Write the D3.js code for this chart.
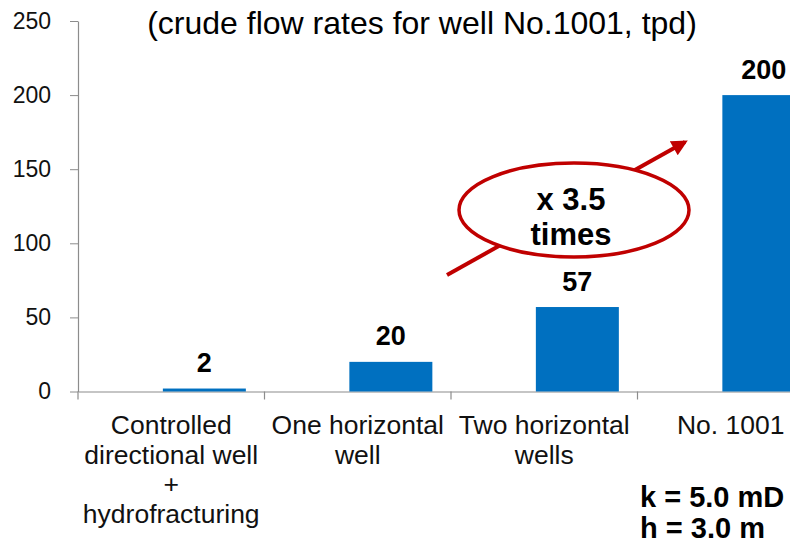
<!DOCTYPE html>
<html lang="en">
<head>
<meta charset="utf-8">
<title>Crude flow rates</title>
<script src="https://cdn.jsdelivr.net/npm/d3@7"></script>
<style>
body { margin: 0; background: #fff; }
text { font-family: "Liberation Sans", Arial, sans-serif; }
</style>
</head>
<body>
<script>
// data
var categories = ["Controlled directional well + hydrofracturing", "One horizontal well", "Two horizontal wells", "No. 1001"];
var catLines = [["Controlled", "directional well", "+", "hydrofracturing"], ["One horizontal", "well"], ["Two horizontal", "wells"], ["No. 1001"]];
var flowRates = [2, 20, 57, 200];
var yTicks = [0, 50, 100, 150, 200, 250];
var subtitle = "(crude flow rates for well No.1001, tpd)";
var ratioText = ["x 3.5", "times"];
var notes = ["k = 5.0 mD", "h = 3.0 m"];

var w = 790, h = 544;

var svg = d3.select("body").append("svg")
    .attr("width", w)
    .attr("height", h);

// axis area runs off the right edge, like the cropped original
var x = d3.scaleBand()
    .domain(categories)
    .range([78, 824])
    .padding(0);

var y = d3.scaleLinear()
    .domain([0, 250])
    .range([391.5, 21]);

// bars sit right of band centre (second series slot)
var barStart = 0.455, barWidth = 0.445;

svg.append("text")
    .attr("x", 422)
    .attr("y", 34)
    .attr("text-anchor", "middle")
    .attr("font-size", 32)
    .attr("fill", "#000")
    .text(subtitle);

// y axis
var yAxis = svg.append("g").attr("transform", "translate(78,0)")
    .call(d3.axisLeft(y).tickValues(yTicks).tickSize(8).tickSizeOuter(0).tickPadding(19));
yAxis.select(".domain").attr("stroke", "#8c8c8c").attr("stroke-width", 1.2);
yAxis.selectAll(".tick line").attr("stroke", "#8c8c8c");
yAxis.selectAll(".tick text")
    .attr("font-size", 23)
    .attr("fill", "#111")
    .style("font-family", "'Liberation Sans', Arial, sans-serif");

// x axis
var xAxis = svg.append("g").attr("transform", "translate(0," + y(0) + ")")
    .call(d3.axisBottom(x).tickSize(0).tickSizeOuter(0).tickFormat(""));
xAxis.select(".domain").attr("stroke", "#8c8c8c").attr("stroke-width", 1.2);
xAxis.selectAll(".tick").remove();
svg.append("g").selectAll("line")
    .data(categories)
    .enter().append("line")
    .attr("x1", function(d) { return x(d); })
    .attr("x2", function(d) { return x(d); })
    .attr("y1", y(0))
    .attr("y2", y(0) + 8)
    .attr("stroke", "#8c8c8c")
    .attr("stroke-width", 1.2);

// category labels
var catG = svg.append("g").selectAll("text")
    .data(categories)
    .enter().append("text")
    .attr("text-anchor", "middle")
    .attr("font-size", 26.5)
    .attr("fill", "#111");
catG.each(function(d, i) {
    var t = d3.select(this);
    catLines[i].forEach(function(line, j) {
        t.append("tspan")
            .attr("x", x(d) + x.bandwidth() / 2)
            .attr("y", 434 + j * 29.5)
            .text(line);
    });
});

// bars
svg.append("g").selectAll("rect")
    .data(flowRates)
    .enter().append("rect")
    .attr("x", function(d, i) { return x(categories[i]) + x.bandwidth() * barStart; })
    .attr("width", x.bandwidth() * barWidth)
    .attr("y", function(d) { return y(d); })
    .attr("height", function(d) { return y(0) - y(d); })
    .attr("fill", "#0070c0");

// value labels
svg.append("g").selectAll("text")
    .data(flowRates)
    .enter().append("text")
    .attr("x", function(d, i) { return x(categories[i]) + x.bandwidth() * (barStart + barWidth / 2); })
    .attr("y", function(d) { return y(d) - 16.5; })
    .attr("text-anchor", "middle")
    .attr("font-size", 27)
    .attr("font-weight", "bold")
    .attr("fill", "#000")
    .text(function(d) { return d; });

// arrow + ellipse callout
svg.append("defs").append("marker")
    .attr("id", "arrowhead")
    .attr("viewBox", "0 0 10 10")
    .attr("refX", 8).attr("refY", 5)
    .attr("markerWidth", 4.2).attr("markerHeight", 4)
    .attr("orient", "auto")
    .append("path")
    .attr("d", "M0,0 L10,5 L0,10 Z")
    .attr("fill", "#c00000");

svg.append("line")
    .attr("x1", 447).attr("y1", 275)
    .attr("x2", 685).attr("y2", 142)
    .attr("stroke", "#c00000")
    .attr("stroke-width", 4)
    .attr("marker-end", "url(#arrowhead)");

svg.append("ellipse")
    .attr("cx", 574).attr("cy", 210)
    .attr("rx", 115).attr("ry", 47)
    .attr("fill", "#fff")
    .attr("stroke", "#c00000")
    .attr("stroke-width", 3.5);

svg.append("g").selectAll("text")
    .data(ratioText)
    .enter().append("text")
    .attr("x", 571)
    .attr("y", function(d, i) { return 210 + i * 35; })
    .attr("text-anchor", "middle")
    .attr("font-size", 31)
    .attr("font-weight", "bold")
    .attr("fill", "#000")
    .text(function(d) { return d; });

// reservoir notes
svg.append("g").selectAll("text")
    .data(notes)
    .enter().append("text")
    .attr("x", 640)
    .attr("y", function(d, i) { return 507 + i * 31; })
    .attr("font-size", 29)
    .attr("font-weight", "bold")
    .attr("fill", "#000")
    .text(function(d) { return d; });
</script>
</body>
</html>
